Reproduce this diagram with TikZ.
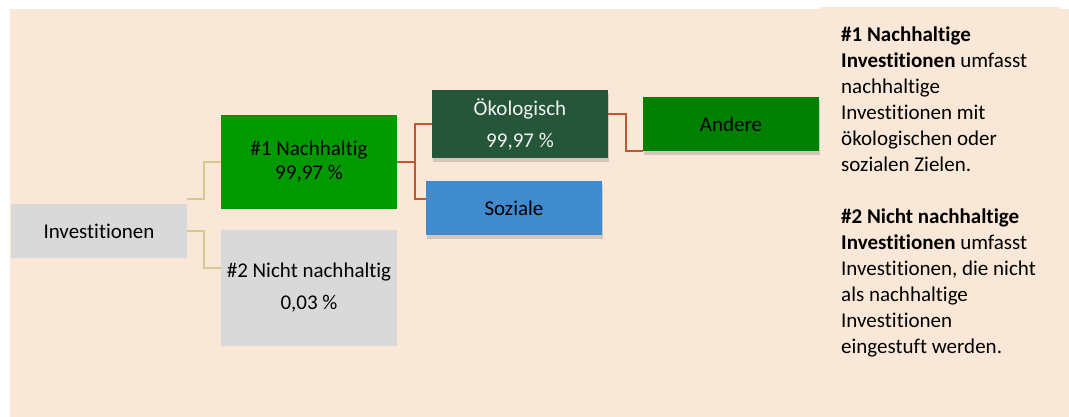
\documentclass[tikz,border=0pt]{standalone}
\usepackage{fontspec}
\setmainfont{Carlito}[Ligatures=NoCommon]
\usetikzlibrary{shadows}
\definecolor{bgbeige}{RGB}{249,232,215}
\definecolor{boxgray}{RGB}{217,217,217}
\definecolor{nachgreen}{RGB}{0,153,0}
\definecolor{oekogreen}{RGB}{38,86,58}
\definecolor{andgreen}{RGB}{0,128,0}
\definecolor{sozblue}{RGB}{64,138,206}
\definecolor{linetan}{RGB}{214,201,142}
\definecolor{linered}{RGB}{197,83,52}
\tikzset{
  box/.style={inner sep=0pt, minimum width=176pt, align=center,
    font=\fontsize{21}{24}\selectfont},
  shade box/.style={box, drop shadow={shadow xshift=1pt, shadow yshift=-4pt,
    opacity=0.22, fill=black!70}},
  tanline/.style={draw=linetan, line width=1.5pt},
  redline/.style={draw=linered, line width=2pt}
}
\begin{document}
\begin{tikzpicture}[x=1pt,y=-1pt]
\useasboundingbox (0,0) rectangle (1069,417);
\fill [bgbeige] (10,9) rectangle (1069,417);
\fill [bgbeige] (820,7) rectangle (1060,417);

\node (inv) [box, fill=boxgray, minimum height=54pt] at (99,231) {Investitionen};
\node (nach) [box, fill=nachgreen, minimum height=94pt] at (309,162) {\#1 Nachhaltig\\99,97 \%};
\node (nicht) [box, fill=boxgray, minimum height=116pt] at (309,288) {\#2 Nicht nachhaltig\\[8pt]0,03 \%};
\node (oeko) [shade box, fill=oekogreen, text=white!95!black, minimum height=68pt] at (520,124) {Ökologisch\\[8pt]99,97 \%};
\node (soz) [shade box, fill=sozblue, minimum height=54pt] at (514,208) {Soziale};
\node (andere) [shade box, fill=andgreen, minimum height=54pt] at (731,124) {Andere};

\draw [tanline] ([yshift=5pt]inv.north east) -- ++(17,0) |- (nach.west);
\draw [tanline] (inv.east) -- ++(17,0) |- ([yshift=20pt]nicht.west);
\draw [redline] (nach.east) -- ++(18,0) |- (oeko.west);
\draw [redline] (nach.east) ++(18,0) |- ([yshift=9pt]soz.west);
\draw [redline] ([yshift=10pt]oeko.east) -- ++(18,0) |- (andere.south west);

\node (legend) [inner sep=0pt, anchor=north west, align=left,
  font=\fontsize{21}{26}\selectfont] at (841,27) {
\textbf{\#1 Nachhaltige}\\
\textbf{Investitionen} umfasst\\
nachhaltige\\
Investitionen mit\\
ökologischen oder\\
sozialen Zielen.\\[26pt]
\textbf{\#2 Nicht nachhaltige}\\
\textbf{Investitionen} umfasst\\
Investitionen, die nicht\\
als nachhaltige\\
Investitionen\\
eingestuft werden.
};
\end{tikzpicture}
\end{document}
